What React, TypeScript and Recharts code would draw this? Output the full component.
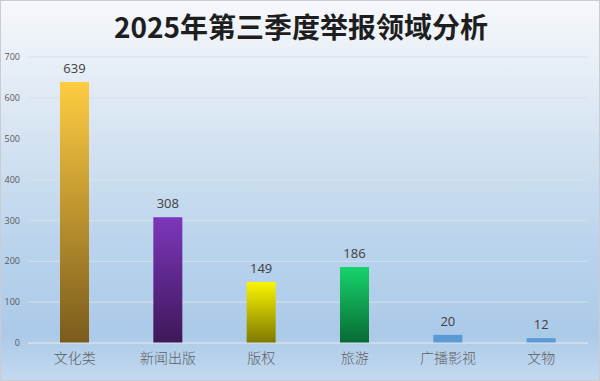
import { Bar, BarChart, CartesianGrid, Cell, LabelList, XAxis, YAxis } from "recharts"

const categories = ["文化类", "新闻出版", "版权", "旅游", "广播影视", "文物"]
const counts = [639, 308, 149, 186, 20, 12]
const yTicks = [0, 100, 200, 300, 400, 500, 600, 700]

// top / bottom colours of each bar's gradient
const barTops = ["#ffcd42", "#7d36bb", "#fbf500", "#17d36c", "#5b9bd5", "#5b9bd5"]
const barBottoms = ["#7a5b1c", "#3d1858", "#7d7800", "#086a33", "#5b9bd5", "#5b9bd5"]

const chartData = categories.map((name, i) => ({ name, value: counts[i] }))

export default function App() {
    return (
        <div
            style={{
                position: "absolute",
                top: 0,
                left: 0,
                width: 600,
                height: 381,
                boxSizing: "border-box",
                border: "1px solid #c9ccd0",
                background: "linear-gradient(180deg, #f6f8fb 0%, #dbe7f3 30%, #b9d3ec 65%, #abcae8 88%, #c3d9ef 100%)",
                overflow: "hidden",
            }}
        >
            <div
                style={{
                    position: "absolute",
                    top: 5,
                    left: 0,
                    width: 600,
                    textAlign: "center",
                    fontFamily: "'Noto Sans CJK SC', serif",
                    fontWeight: 700,
                    fontSize: 28,
                    color: "#1e1e1e",
                    lineHeight: "40px",
                }}
            >
                2025年第三季度举报领域分析
            </div>
            <div style={{ position: "absolute", top: -1, left: -1 }}>
                <BarChart
                    width={600}
                    height={381}
                    data={chartData}
                    margin={{ top: 57, right: 12, left: 0, bottom: 8 }}
                    barSize={29}
                >
                    <defs>
                        {barTops.map((c, i) => (
                            <linearGradient key={i} id={`bar-grad-${i}`} x1="0" y1="0" x2="0" y2="1">
                                <stop offset="0%" stopColor={c} />
                                <stop offset="100%" stopColor={barBottoms[i]} />
                            </linearGradient>
                        ))}
                    </defs>
                    <CartesianGrid stroke="#d6e0ea" vertical={false} />
                    <XAxis
                        dataKey="name"
                        axisLine={{ stroke: "#d6e0ea" }}
                        tickLine={false}
                        tickMargin={4}
                        height={30}
                        tick={{ fill: "#5f5f5f", fontSize: 14, fontWeight: 300, fontFamily: "'Noto Sans CJK SC', sans-serif" }}
                    />
                    <YAxis
                        domain={[0, 700]}
                        ticks={yTicks}
                        width={28}
                        axisLine={false}
                        tickLine={false}
                        tick={{ fill: "#595959", fontSize: 9, fontFamily: "'Open Sans', sans-serif" }}
                    />
                    <Bar dataKey="value" isAnimationActive={false}>
                        {chartData.map((_, i) => (
                            <Cell key={i} fill={`url(#bar-grad-${i})`} />
                        ))}
                        <LabelList
                            dataKey="value"
                            position="top"
                            offset={9}
                            fill="#404040"
                            fontSize={13}
                            fontFamily="'Open Sans', sans-serif"
                        />
                    </Bar>
                </BarChart>
            </div>
        </div>
    )
}
